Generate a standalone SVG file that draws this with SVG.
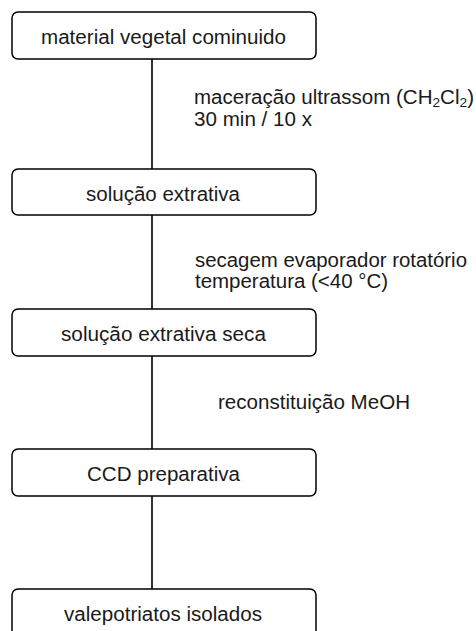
<svg xmlns="http://www.w3.org/2000/svg" width="476" height="631" viewBox="0 0 476 631">
<style>
.box{fill:#fff;stroke:#000;stroke-width:1.5}
.t{font-family:"Liberation Sans",Arial,sans-serif;font-size:19.5px;fill:#1a1a1a}
.ln{stroke:#000;stroke-width:1.6;fill:none}
</style>
<rect width="476" height="631" fill="#fff"/>
<g id="connectors">
<line class="ln" x1="152" y1="59" x2="152" y2="169"/>
<line class="ln" x1="152" y1="215" x2="152" y2="309"/>
<line class="ln" x1="152" y1="356" x2="152" y2="449"/>
<line class="ln" x1="152" y1="496" x2="152" y2="589"/>
<text class="t" x="194" y="104" textLength="280" lengthAdjust="spacingAndGlyphs">maceração ultrassom (CH<tspan font-size="13" dy="3">2</tspan><tspan dy="-3">Cl</tspan><tspan font-size="13" dy="3">2</tspan><tspan dy="-3">)</tspan></text>
<text class="t" x="194" y="126" textLength="118" lengthAdjust="spacingAndGlyphs">30 min / 10 x</text>
<text class="t" x="195" y="267" textLength="272" lengthAdjust="spacingAndGlyphs">secagem evaporador rotatório</text>
<text class="t" x="195" y="288" textLength="193" lengthAdjust="spacingAndGlyphs">temperatura (&lt;40 °C)</text>
<text class="t" x="218" y="409" textLength="192" lengthAdjust="spacingAndGlyphs">reconstituição MeOH</text>
</g>
<g id="n1">
<rect class="box" x="12" y="12" width="304" height="47" rx="6"/>
<text class="t" x="41" y="44" textLength="245" lengthAdjust="spacingAndGlyphs">material vegetal cominuido</text>
</g>
<g id="n2">
<rect class="box" x="12" y="169" width="304" height="46" rx="6"/>
<text class="t" x="86" y="201" textLength="154" lengthAdjust="spacingAndGlyphs">solução extrativa</text>
</g>
<g id="n3">
<rect class="box" x="12" y="309" width="304" height="47" rx="6"/>
<text class="t" x="61" y="341" textLength="205" lengthAdjust="spacingAndGlyphs">solução extrativa seca</text>
</g>
<g id="n4">
<rect class="box" x="12" y="449" width="304" height="47" rx="6"/>
<text class="t" x="87" y="481" textLength="153" lengthAdjust="spacingAndGlyphs">CCD preparativa</text>
</g>
<g id="n5">
<rect class="box" x="12" y="589" width="304" height="47" rx="6"/>
<text class="t" x="64" y="621" textLength="198" lengthAdjust="spacingAndGlyphs">valepotriatos isolados</text>
</g>
</svg>
